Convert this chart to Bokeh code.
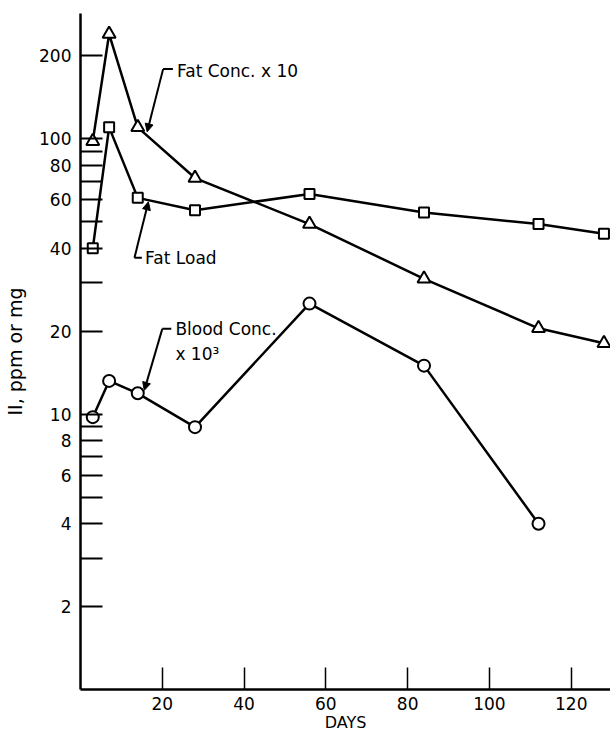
from bokeh.plotting import figure
from bokeh.models import Range1d, FixedTicker, Arrow, NormalHead
from bokeh.core.properties import value
from bokeh.embed import file_html
from bokeh.resources import INLINE

# ---- data ----
days = [3, 7, 14, 28, 56, 84, 112, 128]
fat_conc_x10 = [98, 240, 110, 72, 49, 31, 20.5, 18.1]
fat_load = [40, 110, 61, 55, 63, 54, 49, 45.2]
blood_days = [3, 7, 14, 28, 56, 84, 112]
blood_conc_x1e3 = [9.75, 13.2, 11.9, 8.97, 25.2, 15.0, 4.0]

y_ticks = [2, 3, 4, 5, 6, 7, 8, 9, 10, 20, 30, 40, 50, 60, 70, 80, 90, 100, 200]
y_labelled = [2, 4, 6, 8, 10, 20, 40, 60, 80, 100, 200]
x_ticks = [20, 40, 60, 80, 100, 120]

# annotation labels: text, text anchor (x, y), leader corner (x, y), arrow tip (x, y)
ann_text = ["Fat Conc. x 10", "Fat Load", "Blood Conc.", "x 10\u00b3"]
ann_text_x = [23.6, 15.8, 23.2, 23.2]
ann_text_y = [176, 36.8, 20.3, 16.6]
lead_x0 = [20.2, 13.2, 20.0]
lead_x1 = [22.6, 15.0, 22.2]
lead_y = [179, 37.0, 20.4]
tip_x = [16.3, 16.6, 15.6]
tip_y = [106, 59.0, 12.2]

FONT = "DejaVu Sans"

p = figure(width=610, height=735, y_axis_type="log",
           x_range=Range1d(0, 129.6), y_range=Range1d(1, 285),
           output_backend="svg", toolbar_location=None,
           min_border_left=80, min_border_right=0, min_border_top=13,
           min_border_bottom=46)
p.outline_line_color = None
p.xgrid.visible = False
p.ygrid.visible = False
p.background_fill_color = "white"
p.border_fill_color = "white"

# axes
for ax in (p.xaxis[0], p.yaxis[0]):
    ax.axis_line_width = 2.5
    ax.axis_line_color = "black"
    ax.major_tick_in = 22
    ax.major_tick_out = 0
    ax.major_tick_line_width = 2
    ax.major_tick_line_color = "black"
    ax.minor_tick_line_color = None
    ax.major_label_text_font = FONT
    ax.major_label_text_font_size = "17px"
    ax.major_label_text_color = "black"
    ax.axis_label_text_font = FONT
    ax.axis_label_text_font_style = "normal"
    ax.axis_label_text_color = "black"

p.xaxis.ticker = FixedTicker(ticks=x_ticks)
p.xaxis.major_label_standoff = 7
p.xaxis.axis_label = "DAYS"
p.xaxis.axis_label_text_font_size = "16px"
p.xaxis.axis_label_standoff = 0
p.xaxis.major_tick_line_width = 1.5

p.yaxis.ticker = FixedTicker(ticks=y_ticks)
p.yaxis.major_label_overrides = {t: (str(t) if t in y_labelled else "") for t in y_ticks}
p.yaxis.major_label_standoff = 9
p.yaxis.axis_label = "II, ppm or mg"
p.yaxis.axis_label_text_font_size = "19px"
p.yaxis.axis_label_standoff = 10

# series
LW = 2.5
p.line(days, fat_conc_x10, line_color="black", line_width=LW)
p.scatter(days, fat_conc_x10, marker="triangle", size=13, fill_color="white",
          line_color="black", line_width=2)
p.line(days, fat_load, line_color="black", line_width=LW)
p.scatter(days, fat_load, marker="square", size=10, fill_color="white",
          line_color="black", line_width=2)
p.line(blood_days, blood_conc_x1e3, line_color="black", line_width=LW)
p.scatter(blood_days, blood_conc_x1e3, marker="circle", size=12, fill_color="white",
          line_color="black", line_width=2)

# annotation labels
p.text(x=ann_text_x, y=ann_text_y, text=ann_text, text_font=value(FONT),
       text_font_size="17px", text_align="left", text_baseline="middle",
       text_color="black")
p.segment(x0=lead_x0, y0=lead_y, x1=lead_x1, y1=lead_y, line_color="black", line_width=2)
for i in range(len(tip_x)):
    p.add_layout(Arrow(end=NormalHead(size=8, fill_color="black", line_color="black", line_width=1),
                       x_start=lead_x0[i], y_start=lead_y[i], x_end=tip_x[i], y_end=tip_y[i],
                       line_color="black", line_width=2))

open("out.html", "w").write(file_html(p, INLINE))
